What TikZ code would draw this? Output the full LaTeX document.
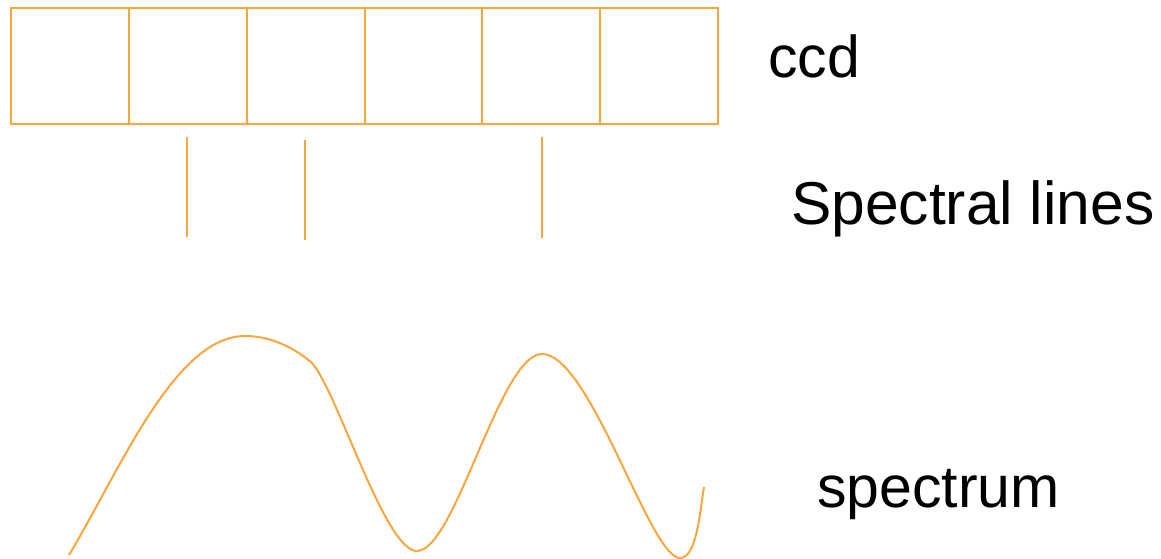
\documentclass[tikz,border=0pt]{standalone}
\usepackage{fontspec}
\setmainfont{Liberation Sans}
\definecolor{lineorange}{RGB}{250,166,60}
\begin{document}
\begin{tikzpicture}[x=1pt,y=-1pt,
  cell/.style={draw=lineorange,line width=2pt,rectangle,minimum width=117.83pt,minimum height=116pt,inner sep=0pt,outer sep=0pt},
  specline/.style={draw=lineorange,line width=2pt},
  label/.style={anchor=base west,inner sep=0pt,font=\fontsize{59}{66}\selectfont}]
\useasboundingbox (0,0) rectangle (1161,559);
\foreach \i in {0,...,5}{
  \node[cell] (c\i) at ({11+58.92+117.83*\i},66) {};
}
\coordinate (l1t) at (187,137); \coordinate (l1b) at (187,237);
\coordinate (l2t) at (305,140); \coordinate (l2b) at (305,240);
\coordinate (l3t) at (542,137); \coordinate (l3b) at (542,238);
\draw[specline] (l1t) -- (l1b);
\draw[specline] (l2t) -- (l2b);
\draw[specline] (l3t) -- (l3b);
\draw[specline] (69,555) .. controls (120,470) and (175,336) .. (245,336)
  .. controls (272,336) and (296,349) .. (312,363)
  .. controls (338,393) and (385,551) .. (417,551)
  .. controls (455,551) and (500,354) .. (542,354)
  .. controls (590,354) and (650,558) .. (680,558)
  .. controls (697,558) and (700,510) .. (704,487);
\node[label] (ccd) at (768,78) {ccd};
\node[label,font=\fontsize{60.5}{66}\selectfont] (sl) at (791,224) {Spectral lines};
\node[label] (sp) at (817,507) {spectrum};
\end{tikzpicture}
\end{document}
